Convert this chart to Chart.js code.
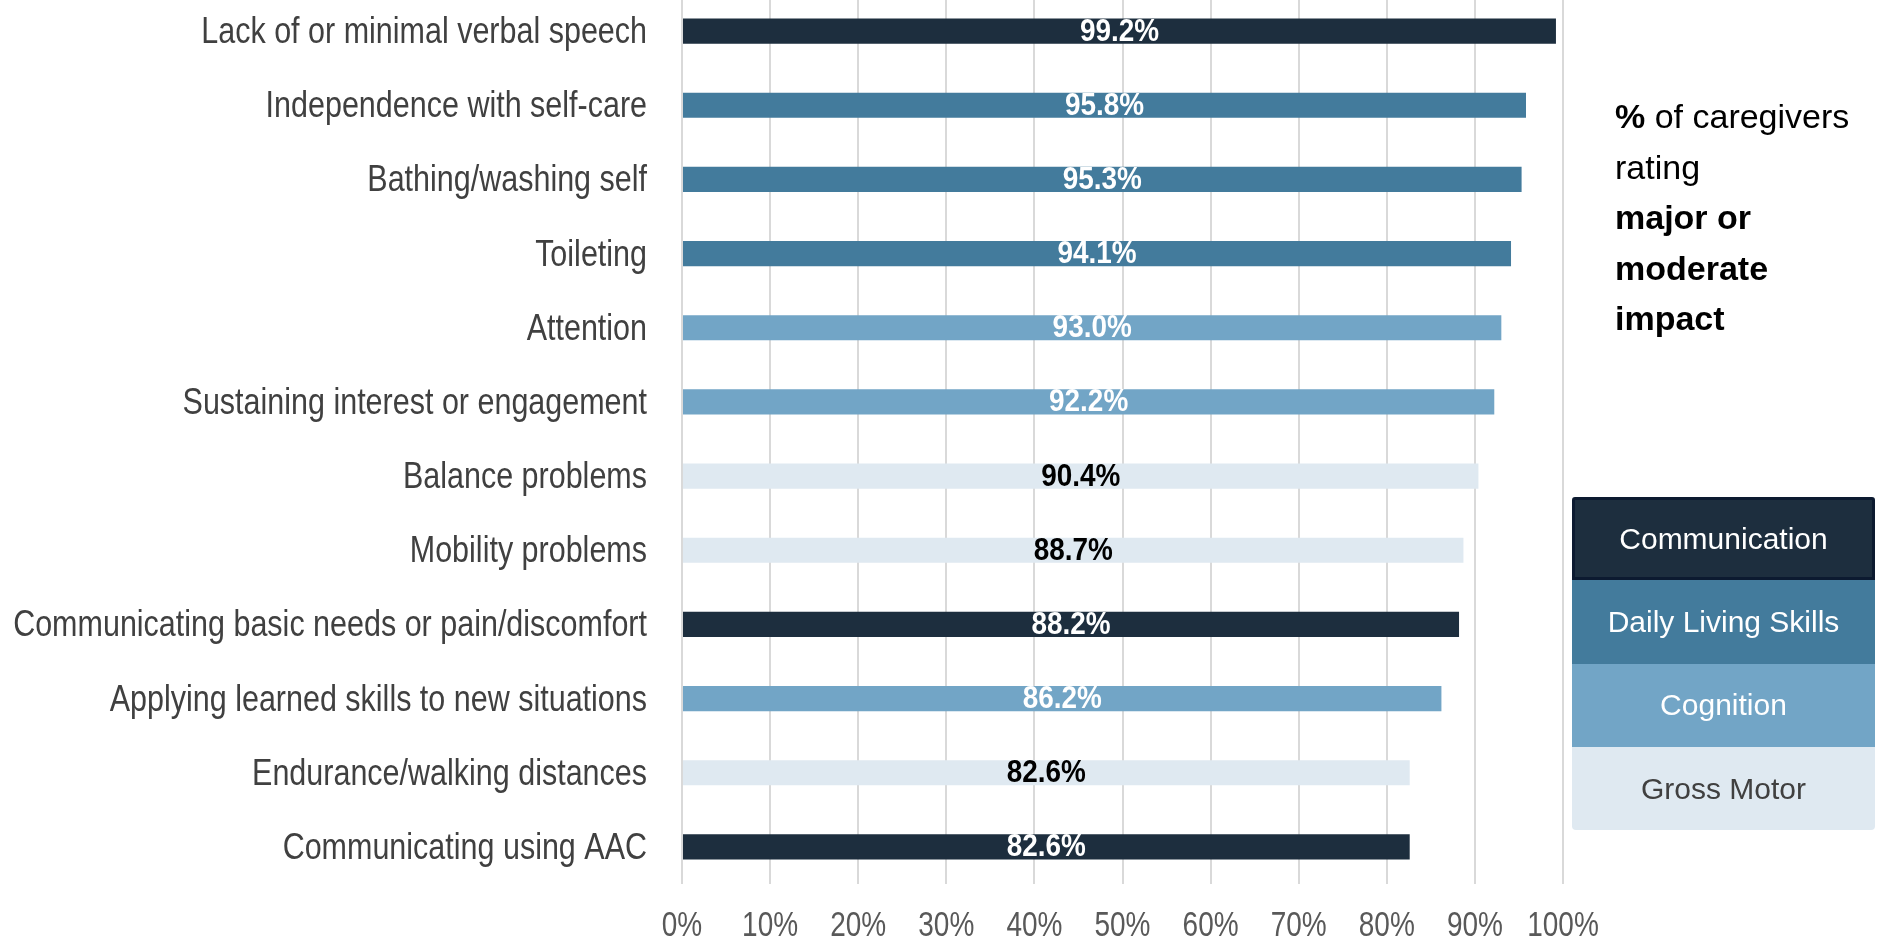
<!DOCTYPE html>
<html>
<head>
<meta charset="utf-8">
<script src="https://cdn.jsdelivr.net/npm/chart.js@4.4.1/dist/chart.umd.min.js"></script>
<style>
  html, body { margin: 0; padding: 0; background: #ffffff; overflow: hidden; }
  #wrap { position: absolute; left: 0; top: -6px; width: 1879px; height: 950px; }
  #note { position: absolute; left: 1615px; top: 91px; font-family: "Liberation Sans", Arial, sans-serif;
          font-size: 34px; line-height: 50.5px; color: #000; }
  #legend { position: absolute; left: 1572px; top: 497px; width: 303px; font-family: "Liberation Sans", Arial, sans-serif; }
  .lg { height: 83.3px; display: flex; align-items: center; justify-content: center; font-size: 30px; box-sizing: border-box; }
</style>
</head>
<body>
<div id="wrap"><canvas id="c" width="1879" height="950"></canvas></div>
<div id="note"><b>%</b> of caregivers<br>rating<br><b>major or</b><br><b>moderate</b><br><b>impact</b></div>
<div id="legend"></div>
<script>
const categories = [
  "Lack of or minimal verbal speech",
  "Independence with self-care",
  "Bathing/washing self",
  "Toileting",
  "Attention",
  "Sustaining interest or engagement",
  "Balance problems",
  "Mobility problems",
  "Communicating basic needs or pain/discomfort",
  "Applying learned skills to new situations",
  "Endurance/walking distances",
  "Communicating using AAC"
];
const values = [99.2, 95.8, 95.3, 94.1, 93.0, 92.2, 90.4, 88.7, 88.2, 86.2, 82.6, 82.6];
const groupOfBar = [0, 1, 1, 1, 2, 2, 3, 3, 0, 2, 3, 0];
const groupNames = ["Communication", "Daily Living Skills", "Cognition", "Gross Motor"];
const groupColors = ["#1d2e3e", "#437b9c", "#72a5c6", "#dfe9f1"];
const groupTextColors = ["#ffffff", "#ffffff", "#ffffff", "#404040"];
const barLabelColors = ["#ffffff", "#ffffff", "#ffffff", "#000000"];
const xTickValues = [0, 10, 20, 30, 40, 50, 60, 70, 80, 90, 100];

const FONT = '"Liberation Sans", Arial, sans-serif';

// legend (HTML, built from arrays)
const lg = document.getElementById('legend');
groupNames.forEach((n, i) => {
  const d = document.createElement('div');
  d.className = 'lg';
  d.textContent = n;
  d.style.background = groupColors[i];
  d.style.color = groupTextColors[i];
  if (i === 0) { d.style.border = '3px solid #0c1a30'; d.style.borderRadius = '3px 3px 0 0'; }
  if (i === groupNames.length - 1) d.style.borderRadius = '0 0 4px 4px';
  lg.appendChild(d);
});

// draw text horizontally condensed (narrow face look)
function narrowText(ctx, text, x, y, sx) {
  ctx.save();
  ctx.translate(x, y);
  ctx.scale(sx, 1);
  ctx.fillText(text, 0, 0);
  ctx.restore();
}

const narrowTicks = {
  id: 'narrowTicks',
  afterDraw(chart) {
    const ctx = chart.ctx;
    const ys = chart.scales.y, xs = chart.scales.x;
    ctx.save();
    // category labels
    ctx.font = '36px ' + FONT;
    ctx.fillStyle = '#404040';
    ctx.textAlign = 'right';
    ctx.textBaseline = 'middle';
    ys.ticks.forEach((t, i) => {
      narrowText(ctx, ys.getLabelForValue(t.value), ys.right - 35, ys.getPixelForTick(i) + 2, 0.847);
    });
    // value axis labels
    ctx.font = '35px ' + FONT;
    ctx.fillStyle = '#595959';
    ctx.textAlign = 'center';
    ctx.textBaseline = 'middle';
    xs.ticks.forEach((t, i) => {
      narrowText(ctx, t.value + '%', xs.getPixelForTick(i), chart.chartArea.bottom + 42, 0.8);
    });
    ctx.restore();
  }
};

const barLabels = {
  id: 'barLabels',
  afterDatasetsDraw(chart) {
    const ctx = chart.ctx;
    const meta = chart.getDatasetMeta(0);
    ctx.save();
    ctx.font = 'bold 31px ' + FONT;
    ctx.textAlign = 'center';
    ctx.textBaseline = 'middle';
    meta.data.forEach((bar, i) => {
      const p = bar.getProps(['x', 'y', 'base'], true);
      ctx.fillStyle = barLabelColors[groupOfBar[i]];
      narrowText(ctx, values[i].toFixed(1) + '%', (p.x + p.base) / 2, p.y + 1, 0.9);
    });
    ctx.restore();
  }
};

new Chart(document.getElementById('c'), {
  type: 'bar',
  data: {
    labels: categories,
    datasets: [{
      data: values,
      backgroundColor: groupOfBar.map(g => groupColors[g]),
      borderWidth: 0,
      categoryPercentage: 1,
      barPercentage: 0.34
    }]
  },
  options: {
    indexAxis: 'y',
    responsive: false,
    animation: false,
    events: [],
    layout: { padding: { left: 0, right: 316, top: 0, bottom: 0 } },
    plugins: { legend: { display: false }, tooltip: { enabled: false } },
    scales: {
      x: {
        min: 0, max: 100,
        afterBuildTicks: (s) => { s.ticks = xTickValues.map(v => ({ value: v })); },
        afterFit: (s) => { s.height = 60; },
        grid: { color: '#d9d9d9', lineWidth: 2, drawTicks: false },
        border: { display: false },
        ticks: { display: false }
      },
      y: {
        afterFit: (s) => { s.width = 682; },
        grid: { display: false, drawTicks: false },
        border: { display: false },
        ticks: { display: false, autoSkip: false }
      }
    }
  },
  plugins: [barLabels, narrowTicks]
});
</script>
</body>
</html>
